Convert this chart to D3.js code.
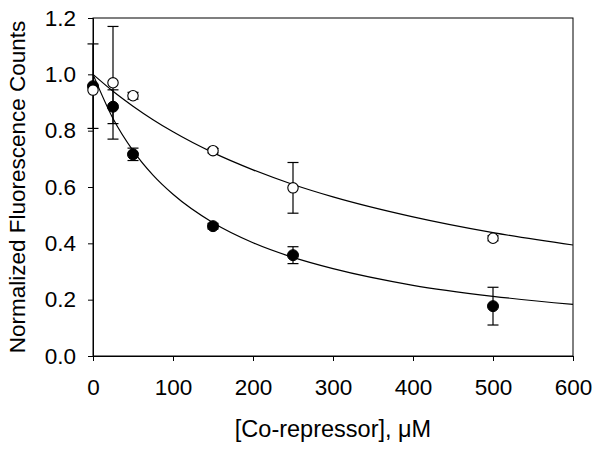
<!DOCTYPE html>
<html><head><meta charset="utf-8">
<script src="https://cdn.jsdelivr.net/npm/d3@7"></script>
<style>
body{margin:0;background:#fff;}
text{font-family:"Liberation Sans",Arial,sans-serif;fill:#000;}
</style></head>
<body><svg id="c" width="602" height="451"></svg>
<script>
// Data
const concentrations = [0, 25, 50, 150, 250, 500];
const filledValues = [0.958, 0.885, 0.716, 0.461, 0.358, 0.177];
const filledErrors = [0.15, 0.06, 0.022, 0.01, 0.03, 0.067];
const openValues = [0.944, 0.970, 0.924, 0.729, 0.597, 0.418];
const openErrors = [0.0, 0.20, 0.012, 0.008, 0.09, 0.009];
const curveX = [0, 25, 50, 75, 100, 150, 200, 250, 300, 400, 500, 600];
const upperCurve = [1.0, 0.94, 0.887, 0.839, 0.796, 0.722, 0.661, 0.609, 0.565, 0.494, 0.438, 0.394];
const lowerCurve = [1.0, 0.843, 0.729, 0.642, 0.574, 0.473, 0.402, 0.35, 0.31, 0.251, 0.212, 0.183];
const xTicks = [0, 100, 200, 300, 400, 500, 600];
const yTicks = [0.0, 0.2, 0.4, 0.6, 0.8, 1.0, 1.2];
const xTitle = "[Co-repressor], \u03BCM";
const yTitle = "Normalized Fluorescence Counts";

const L = 93, R = 573, T = 18, B = 356;
const svg = d3.select("#c");
const x = d3.scaleLinear().domain([0, 600]).range([L, R]);
const y = d3.scaleLinear().domain([0, 1.2]).range([B, T]);

// frame
svg.append("rect").attr("x", L).attr("y", T).attr("width", R - L).attr("height", B - T)
  .attr("fill", "none").attr("stroke", "#000").attr("stroke-width", 1);

const xa = svg.append("g").attr("transform", `translate(0,${B})`)
  .call(d3.axisBottom(x).tickValues(xTicks).tickSize(5).tickPadding(18).tickFormat(d3.format("d")));
const ya = svg.append("g").attr("transform", `translate(${L},0)`)
  .call(d3.axisLeft(y).tickValues(yTicks).tickSize(5).tickPadding(12).tickFormat(d3.format(".1f")));
[xa, ya].forEach(g => {
  g.select(".domain").attr("stroke", "#000");
  g.selectAll(".tick line").attr("stroke", "#000");
  g.selectAll(".tick text").style("font-size", "22.5px").style("font-family", "Liberation Sans, Arial, sans-serif");
});

// curves
const line = d3.line().x(d => x(d[0])).y(d => y(d[1])).curve(d3.curveMonotoneX);
[upperCurve, lowerCurve].forEach(c => {
  svg.append("path").datum(curveX.map((v, i) => [v, c[i]]))
    .attr("d", line).attr("fill", "none").attr("stroke", "#000").attr("stroke-width", 1.2);
});

// error bars
function errorBars(vals, errs) {
  const g = svg.append("g").attr("stroke", "#000").attr("stroke-width", 1.2);
  concentrations.forEach((c, i) => {
    if (errs[i] <= 0) return;
    const cx = x(c), y1 = y(vals[i] + errs[i]), y2 = y(vals[i] - errs[i]);
    g.append("line").attr("x1", cx).attr("x2", cx).attr("y1", y1).attr("y2", y2);
    g.append("line").attr("x1", cx - 5.5).attr("x2", cx + 5.5).attr("y1", y1).attr("y2", y1);
    g.append("line").attr("x1", cx - 5.5).attr("x2", cx + 5.5).attr("y1", y2).attr("y2", y2);
  });
}
errorBars(filledValues, filledErrors);
errorBars(openValues, openErrors);

svg.append("g").selectAll("circle").data(concentrations).join("circle")
  .attr("cx", d => x(d)).attr("cy", (d, i) => y(filledValues[i])).attr("r", 5.5)
  .attr("fill", "#000").attr("stroke", "#000");
svg.append("g").selectAll("circle").data(concentrations).join("circle")
  .attr("cx", d => x(d)).attr("cy", (d, i) => y(openValues[i])).attr("r", 5.2)
  .attr("fill", "#fff").attr("stroke", "#000").attr("stroke-width", 1.1);

svg.append("text").attr("x", (L + R) / 2).attr("y", 437).attr("text-anchor", "middle")
  .style("font-size", "23.5px").text(xTitle);
svg.append("text").attr("transform", `translate(25,${(T + B) / 2}) rotate(-90)`)
  .attr("text-anchor", "middle").style("font-size", "22.5px").text(yTitle);
</script></body></html>
